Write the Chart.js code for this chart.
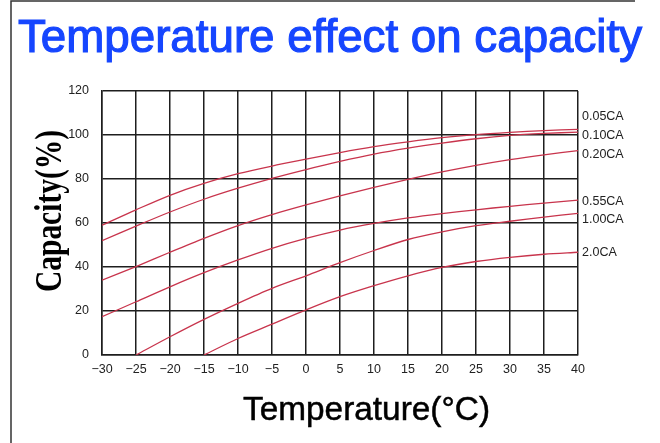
<!DOCTYPE html>
<html>
<head>
<meta charset="utf-8">
<script src="https://cdn.jsdelivr.net/npm/chart.js@4.4.1/dist/chart.umd.min.js"></script>
<style>
  body { margin: 0; background: #fff; }
  #wrap { width: 660px; height: 443px; }
</style>
</head>
<body>
<div id="wrap"><canvas id="capChart" width="660" height="443"></canvas></div>
<script>
// temperature (°C) and capacity (%)
const temps    = [-30, -25, -20, -15, -10, -5, 0, 5, 10, 15, 20, 25, 30, 35, 40];
const cap005   = [59, 66, 72.6, 78, 82.4, 85.9, 89, 92, 94.7, 96.9, 98.8, 100.2, 101.2, 102, 102.6];
const cap010   = [52, 58.6, 65, 70.8, 75.8, 80.3, 84.3, 88, 91.3, 94, 96.3, 98.3, 99.8, 100.7, 101.3];
const cap020   = [34, 40.2, 46.7, 53, 58.8, 63.8, 68.2, 72.3, 76.2, 79.8, 83.2, 86.2, 88.8, 91, 92.9];
const cap055   = [17.4, 24.2, 31, 37.4, 43.2, 48.5, 53, 56.8, 59.8, 62.3, 64.3, 66, 67.6, 69, 70.4];
const cap100   = [null, 0, 8.3, 16.2, 23.5, 30.3, 36, 42, 47.5, 52.5, 56, 58.8, 60.8, 62.7, 64.4];
const cap200   = [null, null, null, 0, 7.5, 14, 20.5, 26.5, 31.5, 36, 39.8, 42.5, 44.4, 45.8, 46.7];
const seriesNames = ['0.05CA', '0.10CA', '0.20CA', '0.55CA', '1.00CA', '2.0CA'];
const tempTicks = [-30, -25, -20, -15, -10, -5, 0, 5, 10, 15, 20, 25, 30, 35, 40];
const capTicks  = [0, 20, 40, 60, 80, 100, 120];

const LINE_RED = '#c8344c';
const GRID = '#1e1e1e';
const NARROW = "'Liberation Sans Narrow', 'Liberation Sans', Arial, sans-serif";

function toPoints(vals) {
    return temps.map((t, i) => ({ x: t, y: vals[i] })).filter(p => p.y !== null);
}

const allSeries = [cap005, cap010, cap020, cap055, cap100, cap200];

// draw text squeezed/stretched to a given width
function fitText(ctx, text, x, y, width, stroke) {
    const w = ctx.measureText(text).width;
    ctx.save();
    ctx.translate(x, y);
    ctx.scale(width / w, 1);
    ctx.fillText(text, 0, 0);
    if (stroke) {
        ctx.strokeStyle = ctx.fillStyle;
        ctx.lineWidth = stroke;
        ctx.strokeText(text, 0, 0);
    }
    ctx.restore();
}

const decorations = {
    id: 'decorations',
    afterDraw(chart, args, opts) {
        const ctx = chart.ctx;
        const area = chart.chartArea;

        // frame edges
        ctx.save();
        ctx.strokeStyle = '#333';
        ctx.lineWidth = 1.5;
        ctx.beginPath();
        ctx.moveTo(11, 443);
        ctx.lineTo(11, 1);
        ctx.lineTo(635, 1);
        ctx.stroke();

        // title
        ctx.fillStyle = '#1646ff';
        ctx.font = "47px 'Liberation Sans', Arial, sans-serif";
        ctx.textBaseline = 'alphabetic';
        ctx.textAlign = 'left';
        fitText(ctx, 'Temperature effect on capacity', 18, 52, 624, 1.2);

        // x axis title
        ctx.fillStyle = '#000';
        ctx.font = "33px 'Liberation Sans', Arial, sans-serif";
        fitText(ctx, 'Temperature(\u00B0C)', 243, 420, 247, 0.5);

        // y axis title
        ctx.save();
        ctx.translate(61, 292);
        ctx.rotate(-Math.PI / 2);
        ctx.font = "bold 37px 'Liberation Serif', 'Times New Roman', serif";
        fitText(ctx, 'Capacity(%)', 0, 0, 162);
        ctx.restore();

        // series labels on the right
        ctx.font = '12.5px ' + NARROW;
        ctx.fillStyle = '#222';
        ctx.textBaseline = 'middle';
        chart.data.datasets.forEach((ds, i) => {
            const meta = chart.getDatasetMeta(i);
            const last = meta.data[meta.data.length - 1];
            ctx.fillText(ds.label, area.right + 4, last.y + opts.labelShift[i]);
        });
        ctx.restore();
    }
};

const ctx = document.getElementById('capChart').getContext('2d');
new Chart(ctx, {
    type: 'line',
    data: {
        datasets: allSeries.map((vals, i) => ({
            label: seriesNames[i],
            data: toPoints(vals),
            borderColor: LINE_RED,
            borderWidth: 1.3,
            pointRadius: 0,
            fill: false,
            tension: 0.3
        }))
    },
    options: {
        responsive: false,
        animation: false,
        layout: { padding: { top: 91, right: 82, left: 0, bottom: 0 } },
        plugins: {
            legend: { display: false },
            tooltip: { enabled: false },
            decorations: { labelShift: [-13, 3, 4, 1.5, 6, 0.5] }
        },
        scales: {
            x: {
                type: 'linear',
                min: -30,
                max: 40,
                afterBuildTicks: scale => { scale.ticks = tempTicks.map(v => ({ value: v })); },
                afterFit: scale => { scale.height = 88; },
                grid: { color: GRID, lineWidth: 1.5, drawTicks: false },
                border: { color: GRID, width: 1.5 },
                ticks: {
                    padding: 7,
                    color: '#222',
                    font: { family: NARROW, size: 12.5 },
                    maxRotation: 0,
                    callback: v => String(v).replace('-', '\u2212')
                }
            },
            y: {
                min: 0,
                max: 120,
                afterBuildTicks: scale => { scale.ticks = capTicks.map(v => ({ value: v })); },
                afterFit: scale => { scale.width = 102; },
                grid: { color: GRID, lineWidth: 1.5, drawTicks: false },
                border: { color: GRID, width: 1.5 },
                ticks: {
                    padding: 13,
                    color: '#222',
                    font: { family: NARROW, size: 12.5 }
                }
            }
        }
    },
    plugins: [decorations]
});
</script>
</body>
</html>
